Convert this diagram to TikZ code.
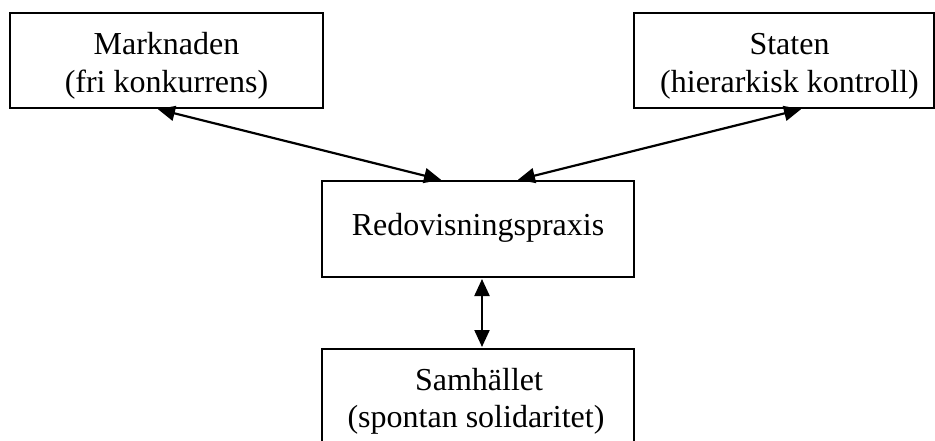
\documentclass[tikz,border=0pt]{standalone}
\usepackage{fontspec}
\setmainfont{Liberation Serif}
\usetikzlibrary{arrows.meta}
\begin{document}
\begin{tikzpicture}[x=1pt,y=-1pt,
  box/.style={draw=black,line width=2pt,rectangle,inner sep=0pt},
  lbl/.style={inner sep=0pt,anchor=base,font=\fontsize{32}{38}\selectfont},
  arr/.style={line width=2.2pt,{Triangle[length=17pt,width=15pt]}-{Triangle[length=17pt,width=15pt]},shorten <=1pt,shorten >=1pt}]
\useasboundingbox (0,0) rectangle (935,441);
\clip (0,0) rectangle (935,441);
\fill[white] (0,0) rectangle (935,441);
% boxes
\node[box,minimum width=313pt,minimum height=95pt] (mark) at (166.5,60.5) {};
\node[box,minimum width=300pt,minimum height=95pt] (stat) at (784,60.5) {};
\node[box,minimum width=312pt,minimum height=96pt] (redo) at (478,229) {};
\node[box,minimum width=312pt,minimum height=120pt] (samh) at (478,409) {};
% labels
\node[lbl] (markA) at (166.5,55) {Marknaden};
\node[lbl] (markB) at (166.5,93) {(fri konkurrens)};
\node[lbl] (statA) at (789.5,55) {Staten};
\node[lbl] (statB) at (789.5,93) {(hierarkisk kontroll)};
\node[lbl] (redoA) at (478,236) {Redovisningspraxis};
\node[lbl] (samhA) at (479,390) {Samhället};
\node[lbl] (samhB) at (476,427) {(spontan solidaritet)};
% connectors
\draw[arr] ([xshift=-9.5pt]mark.south) -- ([xshift=-36pt]redo.north);
\draw[arr] ([xshift=18pt]stat.south) -- ([xshift=39pt]redo.north);
\draw[arr] ([xshift=4pt]redo.south) -- ([xshift=4pt]samh.north);
\end{tikzpicture}
\end{document}
